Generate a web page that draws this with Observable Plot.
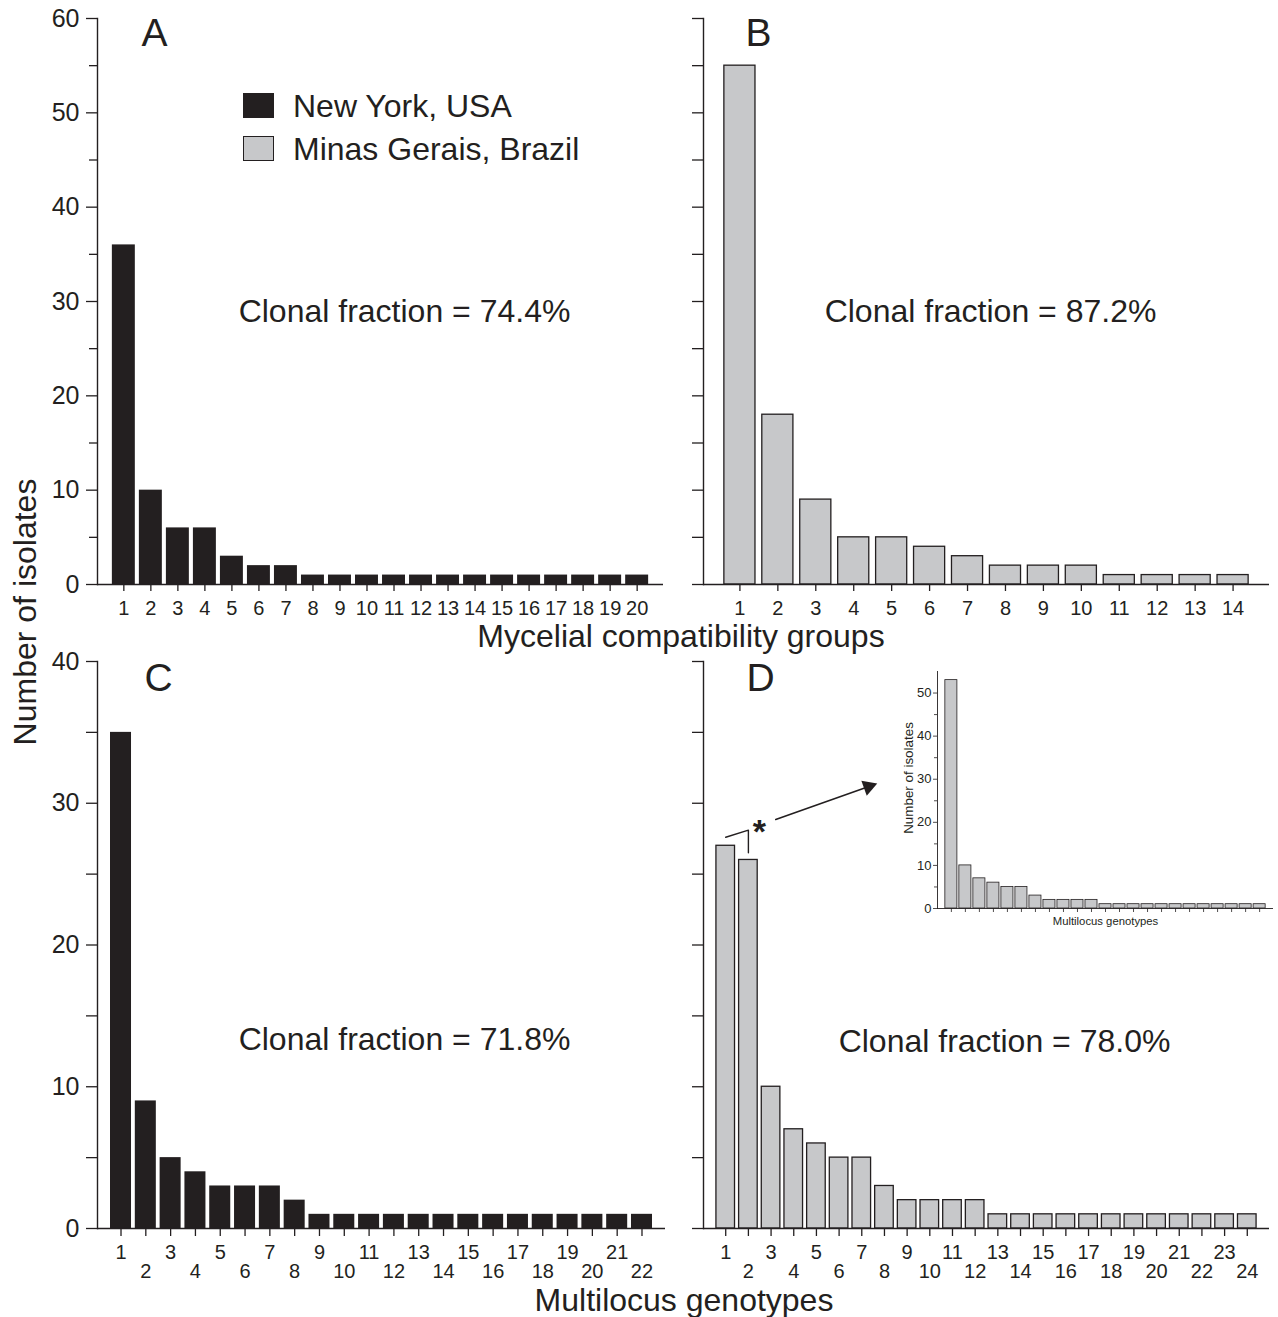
<!DOCTYPE html>
<html>
<head>
<meta charset="utf-8">
<script src="https://cdn.jsdelivr.net/npm/d3@7"></script>
<script src="https://cdn.jsdelivr.net/npm/@observablehq/plot@0.6"></script>
<style>
  body { margin: 0; background: #fff; }
  #fig { position: relative; width: 1278px; height: 1317px; background: #fff; overflow: hidden;
         font-family: "Liberation Sans", Arial, Helvetica, sans-serif; color: #231f20; }
  #fig > * { position: absolute; }
  .t { white-space: nowrap; }
</style>
</head>
<body>
<div id="fig"></div>
<script>
// ---------------- data ----------------
const mcgGroupsNY   = [1,2,3,4,5,6,7,8,9,10,11,12,13,14,15,16,17,18,19,20];
const mcgIsolatesNY = [36,10,6,6,3,2,2,1,1,1,1,1,1,1,1,1,1,1,1,1];
const mcgGroupsMG   = [1,2,3,4,5,6,7,8,9,10,11,12,13,14];
const mcgIsolatesMG = [55,18,9,5,5,4,3,2,2,2,1,1,1,1];
const mlgGenotypesNY = [1,2,3,4,5,6,7,8,9,10,11,12,13,14,15,16,17,18,19,20,21,22];
const mlgIsolatesNY  = [35,9,5,4,3,3,3,2,1,1,1,1,1,1,1,1,1,1,1,1,1,1];
const mlgGenotypesMG = [1,2,3,4,5,6,7,8,9,10,11,12,13,14,15,16,17,18,19,20,21,22,23,24];
const mlgIsolatesMG  = [27,26,10,7,6,5,5,3,2,2,2,2,1,1,1,1,1,1,1,1,1,1,1,1];
const insetGenotypes = [1,2,3,4,5,6,7,8,9,10,11,12,13,14,15,16,17,18,19,20,21,22,23];
const insetIsolates  = [53,10,7,6,5,5,3,2,2,2,2,1,1,1,1,1,1,1,1,1,1,1,1];

const yTicks60 = [0,10,20,30,40,50,60];
const yMinor60 = [5,15,25,35,45,55];
const yTicks40 = [0,10,20,30,40];
const yMinor40 = [5,15,25,35];
const insetYTicks = [0,10,20,30,40,50];
const insetYMinor = [5,15,25,35,45];

const panelLetters = ["A","B","C","D"];
const clonalLabels = ["Clonal fraction = 74.4%","Clonal fraction = 87.2%","Clonal fraction = 71.8%","Clonal fraction = 78.0%"];
const legendLabels = ["New York, USA","Minas Gerais, Brazil"];
const xTitles = ["Mycelial compatibility groups","Multilocus genotypes"];
const yTitle = "Number of isolates";
const insetXTitle = "Multilocus genotypes";
const insetYTitle = "Number of isolates";

// D annotation (bracket over the two top genotypes, pointing at the inset)
const bracket = [{g:1, v:27.6},{g:2, v:28.1},{g:2, v:26.5}];
const star = [{g:2, v:28.9}];
const arrowLink = [{g1:2, v1:28.17, g2:8, v2:31.57}];
const arrowHead = [{g:8, v:31.57}];

// ---------------- styling ----------------
const INK = "#231f20", GRAY = "#c7c8ca";
const FONT = '"Liberation Sans", Arial, Helvetica, sans-serif';
const fig = document.getElementById("fig");

function place(el, left, top) {
  el.style.position = "absolute";
  el.style.left = left + "px";
  el.style.top = top + "px";
  fig.appendChild(el);
}

function htmlText(txt, {x, baseline, size, anchor = "start"}) {
  const d = document.createElement("div");
  d.className = "t";
  d.textContent = txt;
  d.style.fontSize = size + "px";
  d.style.lineHeight = size + "px";
  fig.appendChild(d);
  d.style.top = (baseline - 0.8465 * size) + "px";
  d.style.left = x + "px";
  if (anchor === "middle") d.style.transform = "translate(-50%, 0)";
  return d;
}

function panel(cfg) {
  const data = cfg.cats.map((c, i) => ({cat: c, n: cfg.vals[i]}));
  const axisStyle = {stroke: INK, strokeWidth: 1.3, fill: INK, label: null};
  const xAxes = cfg.stagger ? [
    Plot.axisX(cfg.cats.filter(c => c % 2 === 1), {...axisStyle, tickSize: 8, tickPadding: 8.7, fontSize: 20}),
    Plot.axisX(cfg.cats.filter(c => c % 2 === 0), {...axisStyle, tickSize: 8, tickPadding: 27.4, fontSize: 20})
  ] : [
    Plot.axisX(cfg.cats, {...axisStyle, tickSize: 7, tickPadding: 9, fontSize: 20})
  ];
  const chart = Plot.plot({
    width: cfg.w, height: cfg.h,
    marginLeft: cfg.ml, marginRight: cfg.mr, marginTop: cfg.mt, marginBottom: cfg.mb,
    x: {type: "band", domain: cfg.cats, paddingInner: cfg.pi, paddingOuter: cfg.po, round: false},
    y: {domain: [0, cfg.yMax]},
    style: {fontFamily: FONT, color: INK, background: "transparent", overflow: "visible"},
    marks: [
      Plot.barY(data, {x: "cat", y: "n", fill: cfg.fill, stroke: cfg.stroke, strokeWidth: 1.3}),
      Plot.ruleY([0], {stroke: INK, strokeWidth: 1.4}),
      Plot.frame({anchor: "left", stroke: INK, strokeWidth: 1.4}),
      Plot.axisY(cfg.yMajor, {...axisStyle, tickSize: 11, tickPadding: 7, fontSize: 25,
        tickFormat: cfg.yLabels ? (d => String(d)) : (() => "")}),
      Plot.axisY(cfg.yMinor, {...axisStyle, tickSize: cfg.minorSize, tickFormat: () => ""}),
      ...xAxes,
      Plot.text([cfg.letter], {frameAnchor: "top-left", dx: cfg.ldx, dy: cfg.ldy, lineAnchor: "top",
        textAnchor: "middle", fontSize: 39, fill: INK}),
      Plot.text([cfg.clonal], {frameAnchor: "top", dx: cfg.cdx, dy: cfg.cdy, lineAnchor: "middle",
        textAnchor: "middle", fontSize: 32, fill: INK}),
      ...(cfg.extra || [])
    ]
  });
  place(chart, cfg.left, cfg.top);
}

// Panel A
panel({cats: mcgGroupsNY, vals: mcgIsolatesNY, yMax: 60, yMajor: yTicks60, yMinor: yMinor60, yLabels: true, minorSize: 8,
  fill: INK, stroke: "none", left: 0, top: 0, w: 680, h: 640, ml: 97, mr: 17, mt: 18, mb: 56,
  pi: 0.15, po: 0.55, stagger: false, letter: panelLetters[0], ldx: 57, ldy: 0,
  clonal: clonalLabels[0], cdx: 24, cdy: 293});
// Panel B
panel({cats: mcgGroupsMG, vals: mcgIsolatesMG, yMax: 60, yMajor: yTicks60, yMinor: yMinor60, yLabels: false, minorSize: 11,
  fill: GRAY, stroke: INK, left: 680, top: 0, w: 598, h: 640, ml: 23, mr: 9, mt: 18, mb: 56,
  pi: 0.18, po: 0.55, stagger: false, letter: panelLetters[1], ldx: 55, ldy: 0,
  clonal: clonalLabels[1], cdx: 4, cdy: 293});
// Panel C
panel({cats: mlgGenotypesNY, vals: mlgIsolatesNY, yMax: 40, yMajor: yTicks40, yMinor: yMinor40, yLabels: true, minorSize: 11,
  fill: INK, stroke: "none", left: 0, top: 640, w: 680, h: 677, ml: 97, mr: 15, mt: 21, mb: 89,
  pi: 0.153, po: 0.524, stagger: true, letter: panelLetters[2], ldx: 61, ldy: 2,
  clonal: clonalLabels[2], cdx: 23, cdy: 378});
// Panel D
panel({cats: mlgGenotypesMG, vals: mlgIsolatesMG, yMax: 40, yMajor: yTicks40, yMinor: yMinor40, yLabels: false, minorSize: 11,
  fill: GRAY, stroke: INK, left: 680, top: 640, w: 598, h: 677, ml: 23, mr: 9, mt: 21, mb: 89,
  pi: 0.18, po: 0.57, stagger: true, letter: panelLetters[3], ldx: 57, ldy: 2,
  clonal: clonalLabels[3], cdx: 18, cdy: 380,
  extra: [
    Plot.line(bracket, {x: "g", y: "v", stroke: INK, strokeWidth: 1.4}),
    Plot.text(star, {x: "g", y: "v", text: () => "*", dx: 11, lineAnchor: "top", fontSize: 34, fontWeight: "bold", fill: INK}),
    Plot.arrow(arrowLink, {x1: "g1", y1: "v1", x2: "g2", y2: "v2", insetStart: 29, insetEnd: 18, headLength: 0,
      stroke: INK, strokeWidth: 1.6, bend: 0}),
    Plot.dot(arrowHead, {x: "g", y: "v", symbol: "triangle", r: 6, fill: INK, stroke: "none", rotate: 70.5, dx: -16, dy: 5.7})
  ]});

// Inset in panel D
{
  const data = insetGenotypes.map((c, i) => ({cat: c, n: insetIsolates[i]}));
  const ax = {stroke: INK, strokeWidth: 0.8, fill: INK, label: null};
  const inset = Plot.plot({
    width: 398, height: 280, marginLeft: 57, marginRight: 5, marginTop: 16, marginBottom: 27,
    x: {type: "band", domain: insetGenotypes, paddingInner: 0.14, paddingOuter: 0.56, round: false},
    y: {domain: [0, 55]},
    style: {fontFamily: FONT, color: INK, background: "transparent", overflow: "visible"},
    marks: [
      Plot.barY(data, {x: "cat", y: "n", fill: GRAY, stroke: INK, strokeWidth: 0.8}),
      Plot.ruleY([0], {stroke: INK, strokeWidth: 0.9}),
      Plot.frame({anchor: "left", stroke: INK, strokeWidth: 0.9}),
      Plot.axisY(insetYTicks, {...ax, tickSize: 4, tickPadding: 2, fontSize: 13}),
      Plot.axisY(insetYMinor, {...ax, tickSize: 3, tickFormat: () => ""}),
      Plot.axisX(insetGenotypes, {...ax, tickSize: 4, tickFormat: () => ""}),
      Plot.text([insetXTitle], {frameAnchor: "bottom", dy: 13, lineAnchor: "middle", fontSize: 11.3, fill: INK}),
      Plot.text([insetYTitle], {frameAnchor: "left", rotate: -90, dx: -29, dy: -12, lineAnchor: "middle",
        textAnchor: "middle", fontSize: 13.4, fill: INK})
    ]
  });
  place(inset, 880, 655);
}

// Legend (in panel A)
{
  const sw1 = document.createElement("div");
  Object.assign(sw1.style, {left: "243px", top: "93px", width: "31px", height: "25px", background: INK});
  fig.appendChild(sw1);
  const sw2 = document.createElement("div");
  Object.assign(sw2.style, {left: "243px", top: "136px", width: "31px", height: "25px", background: GRAY,
    border: "1.5px solid " + INK, boxSizing: "border-box"});
  fig.appendChild(sw2);
  htmlText(legendLabels[0], {x: 293, baseline: 117, size: 32});
  htmlText(legendLabels[1], {x: 293, baseline: 160, size: 32});
}

// Shared axis titles
htmlText(xTitles[0], {x: 681, baseline: 647, size: 32, anchor: "middle"});
htmlText(xTitles[1], {x: 684, baseline: 1311, size: 32, anchor: "middle"});
{
  const d = document.createElement("div");
  d.className = "t";
  d.textContent = yTitle;
  Object.assign(d.style, {fontSize: "32px", lineHeight: "32px", left: "25px", top: "612px",
    transform: "translate(-50%, -50%) rotate(-90deg)"});
  fig.appendChild(d);
}
</script>
</body>
</html>
